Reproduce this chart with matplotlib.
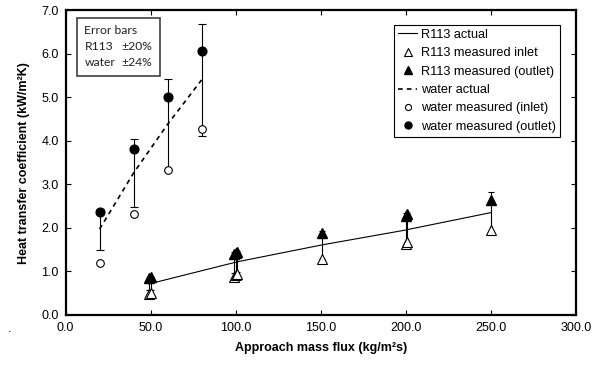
import matplotlib
matplotlib.use("Agg")
import matplotlib.pyplot as plt
from matplotlib.patches import Rectangle

plt.rcParams['font.family'] = ['Liberation Sans', 'DejaVu Sans']

# R113 : flux d'approche (kg/m2s) et coefficients (kW/m2K)
r113_flux = [49, 50, 99, 100, 101, 151, 200, 201, 250]
r113_actual = [0.71, 0.72, 1.20, 1.21, 1.22, 1.61, 1.95, 1.96, 2.35]
r113_inlet = [0.47, 0.50, 0.88, 0.91, 0.93, 1.29, 1.62, 1.67, 1.95]
r113_outlet = [0.85, 0.87, 1.40, 1.43, 1.45, 1.88, 2.27, 2.31, 2.64]

# Eau
water_flux = [20, 40, 60, 80]
water_actual = [1.97, 3.26, 4.38, 5.40]
water_inlet = [1.20, 2.32, 3.32, 4.28]
water_outlet = [2.37, 3.81, 5.00, 6.07]

# Incertitudes (fraction de la valeur reelle)
r113_err = 0.20
water_err = 0.24

x_ticks = [0, 50, 100, 150, 200, 250, 300]
y_ticks = [0, 1, 2, 3, 4, 5, 6, 7]

fig = plt.figure(figsize=(6.01, 3.70), dpi=100)
ax = fig.add_axes([0.109, 0.149, 0.849, 0.823])

# Barres d'erreur autour des valeurs reelles
ax.errorbar(r113_flux, r113_actual, yerr=[v * r113_err for v in r113_actual],
            fmt='none', ecolor='black', elinewidth=0.8, capsize=2.2, capthick=0.8, zorder=1)
ax.errorbar(water_flux, water_actual, yerr=[v * water_err for v in water_actual],
            fmt='none', ecolor='black', elinewidth=0.8, capsize=2.8, capthick=0.8, zorder=1)

# Courbes et points mesures
ax.plot(r113_flux, r113_actual, color='black', lw=0.8, label='R113 actual', zorder=2)
ax.plot(r113_flux, r113_inlet, ls='none', marker='^', ms=6.5, mfc='white', mec='black',
        mew=0.8, label='R113 measured inlet', zorder=3)
ax.plot(r113_flux, r113_outlet, ls='none', marker='^', ms=6.5, mfc='black', mec='black',
        label='R113 measured (outlet)', zorder=3)
ax.plot(water_flux, water_actual, color='black', lw=1.2, dashes=(2.8, 2.5),
        label='water actual', zorder=2)
ax.plot(water_flux, water_inlet, ls='none', marker='o', ms=5.5, mfc='white', mec='black',
        mew=0.8, label='water measured (inlet)', zorder=3)
ax.plot(water_flux, water_outlet, ls='none', marker='o', ms=6.3, mfc='black', mec='black',
        label='water measured (outlet)', zorder=3)

ax.set_xlim(0, 300)
ax.set_ylim(0, 7)
ax.set_xticks(x_ticks)
ax.set_yticks(y_ticks)
ax.set_xticklabels(['%.1f' % v for v in x_ticks])
ax.set_yticklabels(['%.1f' % v for v in y_ticks])
ax.tick_params(direction='in', top=True, right=True, length=3.5, width=0.8,
               labelsize=9, pad=5)
for s in ax.spines.values():
    s.set_linewidth(1.6)

ax.set_xlabel('Approach mass flux (kg/m\u00b2s)', fontsize=9, fontweight='bold', labelpad=6)
ax.set_ylabel('Heat transfer coefficient (kW/m\u00b2K)', fontsize=9, fontweight='bold', labelpad=8)

leg = ax.legend(loc='upper right', bbox_to_anchor=(0.969, 0.952), borderaxespad=0,
                fontsize=9.2, handlelength=1.5, handletextpad=0.3, labelspacing=0.5,
                markerscale=0.8, fancybox=False, framealpha=1, edgecolor='black',
                borderpad=0.3)
leg.get_frame().set_linewidth(0.8)

# Encadre des incertitudes
ax.add_patch(Rectangle((0.0225, 0.785), 0.163, 0.19, transform=ax.transAxes,
                       fill=False, edgecolor='#404040', lw=1.2, zorder=4))
box_font = dict(fontsize=8.7, family='Lato', transform=ax.transAxes, va='center', color='#202020')
ax.text(0.037, 0.935, 'Error bars', **box_font)
ax.text(0.037, 0.88, 'R113', **box_font)
ax.text(0.110, 0.88, '\u00b120%', **box_font)
ax.text(0.037, 0.828, 'water', **box_font)
ax.text(0.110, 0.828, '\u00b124%', **box_font)

fig.text(8 / 601, 1 - 332 / 370, '.', fontsize=9, va='baseline')

fig.savefig('out.png', dpi=100)
